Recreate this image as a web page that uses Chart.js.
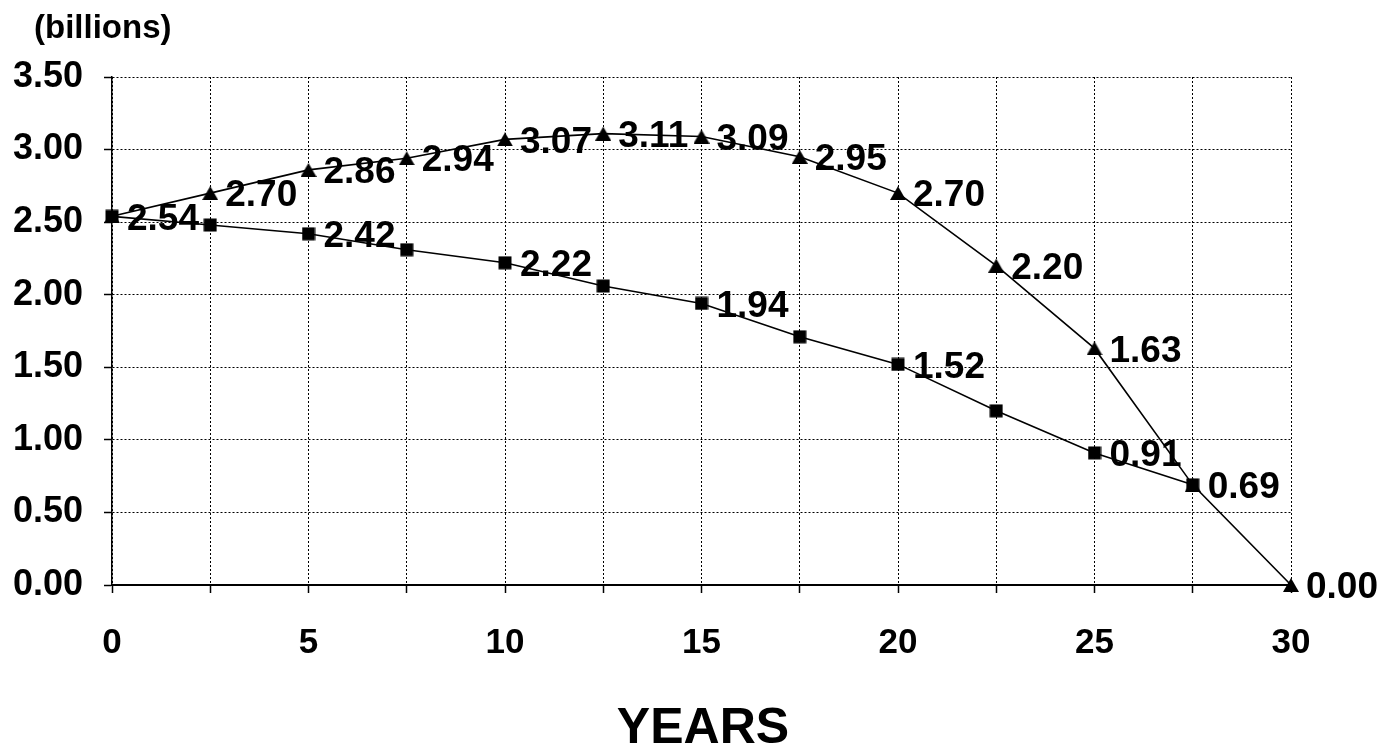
<!DOCTYPE html>
<html>
<head>
<meta charset="utf-8">
<title>Billions by year</title>
<script src="https://cdn.jsdelivr.net/npm/chart.js@4/dist/chart.umd.min.js"></script>
<style>
  html, body { margin: 0; padding: 0; background: #fff; }
  #wrap { position: relative; width: 1384px; height: 752px; }
</style>
</head>
<body>
<div id="wrap"><canvas id="chart" width="1384" height="752"></canvas></div>
<script>
// Years along the horizontal axis (every 2.5 years)
const years = [0, 2.5, 5, 7.5, 10, 12.5, 15, 17.5, 20, 22.5, 25, 27.5, 30];

// Triangle series (billions)
const triangleValues = [2.54, 2.70, 2.86, 2.94, 3.07, 3.11, 3.09, 2.95, 2.70, 2.20, 1.63, 0.69, 0.00];
// Which triangle points carry a value label
const triangleLabelled = [false, true, true, true, true, true, true, true, true, true, true, false, true];

// Square series (billions), ends at 27.5 years
const squareValues = [2.54, 2.48, 2.42, 2.31, 2.22, 2.06, 1.94, 1.71, 1.52, 1.20, 0.91, 0.69];
const squareLabelled = [true, false, true, false, true, false, true, false, true, false, true, true];

// Axis tick values
const yTicks = [0, 0.5, 1, 1.5, 2, 2.5, 3, 3.5];
const xLabelledYears = [0, 5, 10, 15, 20, 25, 30];

const FONT = '"Liberation Sans", Arial, Helvetica, sans-serif';

const toPoints = (vals) => vals.map((v, i) => ({ x: years[i], y: v }));

// Solid black marker images, centred on their bounding box
function makeMarker(kind) {
  const c = document.createElement('canvas');
  const w = kind === 'triangle' ? 16 : 14;
  const h = 14;
  c.width = w; c.height = h;
  const g = c.getContext('2d');
  g.fillStyle = '#000';
  g.beginPath();
  if (kind === 'triangle') {
    g.moveTo(w / 2, 0);
    g.lineTo(w, h);
    g.lineTo(0, h);
    g.closePath();
  } else {
    g.rect(0.5, 0.5, w - 1, h - 1);
  }
  g.fill();
  return c;
}
const triangleMarker = makeMarker('triangle');
const squareMarker = makeMarker('square');

// Draws the value next to each labelled marker, plus the axis captions
const valueLabels = {
  id: 'valueLabels',
  afterDatasetsDraw(chart) {
    const ctx = chart.ctx;
    ctx.save();
    ctx.fillStyle = '#000';
    ctx.font = 'bold 37px ' + FONT;
    ctx.textAlign = 'left';
    ctx.textBaseline = 'middle';
    chart.data.datasets.forEach((ds, di) => {
      const meta = chart.getDatasetMeta(di);
      meta.data.forEach((pt, i) => {
        if (!ds.labelled[i]) return;
        ctx.fillText(ds.data[i].y.toFixed(2), pt.x + 15, pt.y + 3);
      });
    });
    ctx.restore();
  },
  afterDraw(chart) {
    const ctx = chart.ctx;
    ctx.save();
    ctx.fillStyle = '#000';
    ctx.textBaseline = 'middle';
    ctx.textAlign = 'left';
    ctx.font = 'bold 33px ' + FONT;
    ctx.fillText('(billions)', 34, 29);
    ctx.textAlign = 'center';
    ctx.font = 'bold 50px ' + FONT;
    ctx.fillText('YEARS', 703, 729);
    ctx.restore();
  }
};

new Chart(document.getElementById('chart'), {
  type: 'line',
  data: {
    datasets: [
      {
        label: 'squares',
        data: toPoints(squareValues),
        labelled: squareLabelled,
        borderColor: '#000',
        borderWidth: 1.6,
        backgroundColor: '#000',
        pointStyle: squareMarker,
        pointRadius: 7,
        tension: 0,
        clip: false,
        order: 0
      },
      {
        label: 'triangles',
        data: toPoints(triangleValues),
        labelled: triangleLabelled,
        borderColor: '#000',
        borderWidth: 1.6,
        backgroundColor: '#000',
        pointStyle: triangleMarker,
        pointRadius: 8,
        tension: 0,
        clip: false,
        order: 1
      }
    ]
  },
  options: {
    responsive: false,
    animation: false,
    events: [],
    layout: { padding: { left: 0, right: 93, top: 77, bottom: 0 } },
    plugins: {
      legend: { display: false },
      tooltip: { enabled: false },
      title: { display: false }
    },
    scales: {
      x: {
        type: 'linear',
        min: 0,
        max: 30,
        afterFit(scale) { scale.height = 752 - 585; },
        afterBuildTicks(scale) { scale.ticks = years.map(v => ({ value: v })); },
        ticks: {
          autoSkip: false,
          maxRotation: 0,
          color: '#000',
          padding: 29,
          font: { family: FONT, size: 35, weight: 'bold' },
          callback: (v) => xLabelledYears.includes(v) ? String(v) : ''
        },
        grid: {
          color: '#000',
          lineWidth: 1,
          tickLength: 8,
          tickColor: '#000',
          tickWidth: 1.5,
          tickBorderDash: []
        },
        border: { display: true, color: '#000', width: 2, dash: [2, 2] }
      },
      y: {
        type: 'linear',
        min: 0,
        max: 3.5,
        afterFit(scale) { scale.width = 112; },
        afterBuildTicks(scale) { scale.ticks = yTicks.map(v => ({ value: v })); },
        ticks: {
          color: '#000',
          padding: 21,
          font: { family: FONT, size: 36, weight: 'bold' },
          callback: (v) => Number(v).toFixed(2)
        },
        grid: {
          color: '#000',
          lineWidth: 1,
          tickLength: 8,
          tickColor: '#000',
          tickWidth: 1.5,
          tickBorderDash: []
        },
        border: { display: true, color: '#000', width: 1.5, dash: [2, 2] }
      }
    }
  },
  plugins: [valueLabels]
});
</script>
</body>
</html>
